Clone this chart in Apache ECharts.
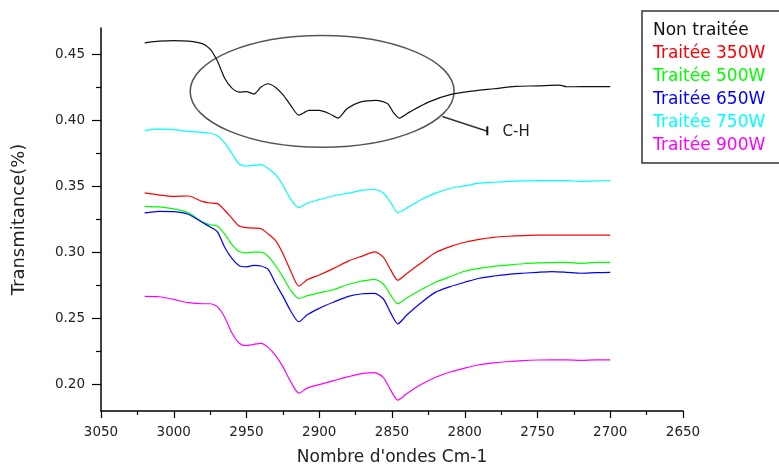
<!DOCTYPE html>
<html>
<head>
<meta charset="utf-8">
<script src="https://cdn.jsdelivr.net/npm/echarts@6/dist/echarts.min.js"></script>
<style>html,body{margin:0;padding:0;background:#fff}#c{width:779px;height:466px}</style>
</head>
<body>
<div id="c"></div>
<script>
// ---- data ----
var seriesNames = ['Non traitée', 'Traitée 350W', 'Traitée 500W', 'Traitée 650W', 'Traitée 750W', 'Traitée 900W'];
var xTicks = [3050, 3000, 2950, 2900, 2850, 2800, 2750, 2700, 2650];
var yTicks = [0.20, 0.25, 0.30, 0.35, 0.40, 0.45];
var yMinorTicks = [0.225, 0.275, 0.325, 0.375, 0.425];

var blackWavenumbers = [3020, 3010, 3000, 2990, 2980, 2975, 2970, 2965, 2960, 2955, 2950, 2945, 2940, 2935, 2930, 2925, 2920, 2914, 2907, 2900, 2893, 2887, 2881, 2872, 2861, 2853, 2849, 2845, 2838, 2825, 2810, 2795, 2780, 2765, 2750, 2735, 2730, 2725, 2715, 2700];
var nonTraitee = [0.4588, 0.4600, 0.4605, 0.4600, 0.4580, 0.4540, 0.4450, 0.4320, 0.4245, 0.4215, 0.4218, 0.4200, 0.4253, 0.4278, 0.4250, 0.4195, 0.4120, 0.4040, 0.4076, 0.4076, 0.4051, 0.4018, 0.4089, 0.4139, 0.4152, 0.4127, 0.4060, 0.4018, 0.4063, 0.4139, 0.4195, 0.4222, 0.4240, 0.4258, 0.4262, 0.4268, 0.4255, 0.4255, 0.4256, 0.4256];

var wavenumbers = [3020, 3010, 3000, 2990, 2980, 2975, 2970, 2965, 2960, 2955, 2950, 2945, 2940, 2935, 2930, 2925, 2920, 2914, 2908, 2900, 2890, 2880, 2870, 2862, 2856, 2851, 2846, 2840, 2830, 2820, 2810, 2800, 2790, 2780, 2770, 2760, 2750, 2740, 2730, 2720, 2710, 2700];
var t350 = [0.3451, 0.3435, 0.3425, 0.3428, 0.3385, 0.3375, 0.3370, 0.3320, 0.3260, 0.3200, 0.3188, 0.3185, 0.3180, 0.3140, 0.3090, 0.2993, 0.2870, 0.2746, 0.2795, 0.2830, 0.2880, 0.2935, 0.2975, 0.3005, 0.2965, 0.2870, 0.2790, 0.2840, 0.2920, 0.3000, 0.3045, 0.3078, 0.3100, 0.3115, 0.3123, 0.3128, 0.3131, 0.3132, 0.3132, 0.3132, 0.3132, 0.3132];
var t500 = [0.3350, 0.3345, 0.3330, 0.3300, 0.3230, 0.3210, 0.3200, 0.3140, 0.3060, 0.3008, 0.2998, 0.3003, 0.3003, 0.2970, 0.2900, 0.2816, 0.2720, 0.2653, 0.2673, 0.2695, 0.2720, 0.2758, 0.2785, 0.2797, 0.2762, 0.2680, 0.2612, 0.2655, 0.2718, 0.2775, 0.2818, 0.2858, 0.2880, 0.2895, 0.2905, 0.2915, 0.2922, 0.2924, 0.2925, 0.2918, 0.2925, 0.2925];
var t650 = [0.3300, 0.3312, 0.3310, 0.3290, 0.3225, 0.3194, 0.3156, 0.3040, 0.2955, 0.2900, 0.2892, 0.2903, 0.2898, 0.2870, 0.2765, 0.2670, 0.2565, 0.2476, 0.2530, 0.2577, 0.2625, 0.2668, 0.2688, 0.2690, 0.2650, 0.2545, 0.2460, 0.2525, 0.2620, 0.2700, 0.2742, 0.2775, 0.2805, 0.2822, 0.2835, 0.2843, 0.2850, 0.2855, 0.2850, 0.2843, 0.2848, 0.2850];
var t750 = [0.3925, 0.3935, 0.3930, 0.3918, 0.3910, 0.3903, 0.3885, 0.3830, 0.3750, 0.3670, 0.3655, 0.3660, 0.3665, 0.3635, 0.3590, 0.3510, 0.3410, 0.3341, 0.3375, 0.3400, 0.3430, 0.3450, 0.3472, 0.3477, 0.3450, 0.3380, 0.3302, 0.3335, 0.3400, 0.3450, 0.3485, 0.3505, 0.3525, 0.3532, 0.3538, 0.3542, 0.3545, 0.3545, 0.3545, 0.3538, 0.3542, 0.3545];
var t900 = [0.2668, 0.2665, 0.2645, 0.2620, 0.2612, 0.2612, 0.2590, 0.2510, 0.2390, 0.2313, 0.2295, 0.2305, 0.2312, 0.2280, 0.2220, 0.2136, 0.2030, 0.1935, 0.1975, 0.2000, 0.2030, 0.2060, 0.2085, 0.2090, 0.2055, 0.1960, 0.1882, 0.1930, 0.2000, 0.2055, 0.2095, 0.2125, 0.2150, 0.2165, 0.2175, 0.2182, 0.2186, 0.2187, 0.2187, 0.2184, 0.2187, 0.2187];

var colors = ['#111111', '#ff0000', '#00ff00', '#0000ff', '#00ffff', '#ff00ff'];

function pairs(xs, ys) { return xs.map(function (x, i) { return [x, ys[i]]; }); }

var chart = echarts.init(document.getElementById('c'), null, { renderer: 'canvas' });
var FONT = 'DejaVu Sans';
var valuesList = [nonTraitee, t350, t500, t650, t750, t900];

var series = seriesNames.map(function (name, i) {
  return {
    name: name,
    type: 'line',
    data: i === 0 ? pairs(blackWavenumbers, nonTraitee) : pairs(wavenumbers, valuesList[i]),
    showSymbol: false,
    smooth: 0.25,
    lineStyle: { color: colors[i], width: 1.2 },
    itemStyle: { color: colors[i] },
    silent: true,
    animation: false
  };
});

chart.setOption({
  animation: false,
  backgroundColor: '#fff',
  grid: { left: 101, right: 96, top: 28, bottom: 55, containLabel: false, outerBoundsMode: 'none' },
  xAxis: {
    type: 'value', min: 2650, max: 3050, interval: 50, inverse: true,
    name: "Nombre d'ondes Cm-1", nameLocation: 'middle', nameGap: 38,
    nameTextStyle: { fontFamily: FONT, fontSize: 17, color: '#222' },
    axisLine: { show: true, onZero: false, lineStyle: { color: '#000', width: 1.5 } },
    axisTick: { show: true, length: 7, lineStyle: { color: '#000', width: 1.2 } },
    minorTick: { show: true, splitNumber: 2, length: 4, lineStyle: { color: '#000', width: 1.2 } },
    axisLabel: { margin: 14, fontFamily: FONT, fontSize: 13.5, color: '#222',
      formatter: function (v) { return String(v); } },
    splitLine: { show: false }, minorSplitLine: { show: false }
  },
  yAxis: [{
    type: 'value', min: 0.18, max: 0.47, position: 'left',
    name: 'Transmitance(%)', nameLocation: 'middle', nameGap: 73,
    nameTextStyle: { fontFamily: FONT, fontSize: 18, color: '#222' },
    axisLine: { show: true, onZero: false, lineStyle: { color: '#000', width: 1.5 } },
    axisTick: { show: true, length: 9, customValues: yTicks, lineStyle: { color: '#000', width: 1.2 } },
    axisLabel: { margin: 16, fontFamily: FONT, fontSize: 13.5, color: '#222', customValues: yTicks,
      formatter: function (v) { return v.toFixed(2); } },
    splitLine: { show: false }
  }, {
    type: 'value', min: 0.18, max: 0.47, position: 'left', offset: 0,
    axisLine: { show: false },
    axisTick: { show: true, length: 5, customValues: yMinorTicks, lineStyle: { color: '#000', width: 1.2 } },
    axisLabel: { show: false, customValues: yMinorTicks },
    splitLine: { show: false }
  }],
  legend: {
    orient: 'vertical', left: 648, top: 22, padding: 0,
    itemWidth: 0, itemHeight: 0, itemGap: 6, selectedMode: false,
    textStyle: { fontFamily: FONT, fontSize: 17, lineHeight: 16 },
    data: seriesNames.map(function (n, i) { return { name: n, icon: 'rect', textStyle: { color: colors[i] } }; })
  },
  series: series
});

// annotation ellipse around the C-H region, placed in data coordinates
function px(x, y) { return chart.convertToPixel({ xAxisIndex: 0, yAxisIndex: 0 }, [x, y]); }
var c = px(2898, 0.422);
var ex = px(2898 - 90.7, 0.422);
var ey = px(2898, 0.422 + 0.0423);
var a0 = px(2815.4, 0.403);
var a1 = px(2784.5, 0.3918);
var lbl = px(2774, 0.391);

chart.setOption({
  graphic: [
    { type: 'ellipse', shape: { cx: c[0], cy: c[1], rx: Math.abs(ex[0] - c[0]), ry: Math.abs(c[1] - ey[1]) },
      style: { fill: 'none', stroke: '#555', lineWidth: 1.5 }, silent: true },
    { type: 'line', shape: { x1: a0[0], y1: a0[1], x2: a1[0], y2: a1[1] },
      style: { stroke: '#333', lineWidth: 1.5 }, silent: true },
    { type: 'line', shape: { x1: a1[0], y1: a1[1] - 5, x2: a1[0], y2: a1[1] + 4 },
      style: { stroke: '#111', lineWidth: 2 }, silent: true },
    { type: 'text', x: lbl[0], y: lbl[1],
      style: { text: 'C-H', fill: '#222', font: '15px "DejaVu Sans"', textAlign: 'left', textVerticalAlign: 'middle' }, silent: true },
    { type: 'rect', shape: { x: 642, y: 11, width: 160, height: 152 },
      style: { fill: 'none', stroke: '#333', lineWidth: 1.5 }, silent: true, z: 10 }
  ]
});
</script>
</body>
</html>
